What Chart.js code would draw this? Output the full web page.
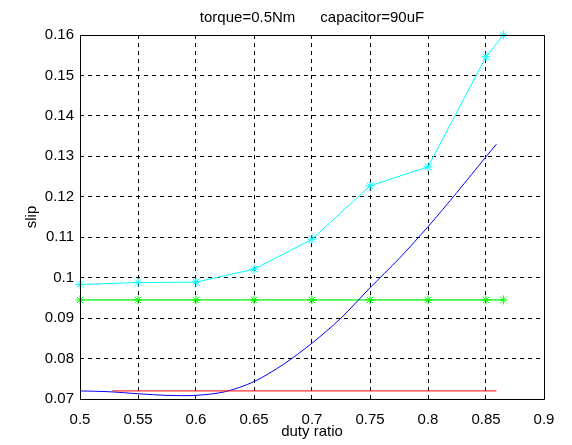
<!DOCTYPE html>
<html>
<head>
<meta charset="utf-8">
<script src="https://cdn.jsdelivr.net/npm/chart.js@4.4.1/dist/chart.umd.min.js"></script>
<style>
  html, body { margin: 0; padding: 0; background: #fff; }
  #wrap { width: 572px; height: 445px; position: relative; }
</style>
</head>
<body>
<div id="wrap"><canvas id="slipChart"></canvas></div>
<script>
// values
const dutyMarked = [0.5, 0.55, 0.6, 0.65, 0.7, 0.75, 0.8, 0.85, 0.865];
const slipCyan = [0.0983, 0.0988, 0.0989, 0.1021, 0.1095, 0.1227, 0.1274, 0.1546, 0.160];
const slipGreen = [0.0945, 0.0945, 0.0945, 0.0945, 0.0945, 0.0945, 0.0945, 0.0945, 0.0945];

const dutyBlue = [0.5, 0.525, 0.55, 0.575, 0.6, 0.625, 0.65, 0.675, 0.7, 0.725, 0.75, 0.775, 0.8, 0.825, 0.85, 0.859];
const slipBlue = [0.0720, 0.0718, 0.0713, 0.0709, 0.0709, 0.0718, 0.0743, 0.0785, 0.0838, 0.0900, 0.0975, 0.1047, 0.1126, 0.1211, 0.1299, 0.1330];

const dutyRed = [0.528, 0.859];
const slipRed = [0.0720, 0.0720];

const titleText = 'torque=0.5Nm      capacitor=90uF';

const FONT = 'Liberation Sans, Arial, sans-serif';

function pts(xs, ys) {
  return xs.map((x, i) => ({ x: x, y: ys[i] }));
}

// matlab style closed box + title
const framePlugin = {
  id: 'frame',
  afterDraw(chart) {
    const { ctx, chartArea } = chart;
    const l = Math.round(chartArea.left) + 0.5;
    const r = Math.round(chartArea.right) + 0.5;
    const t = Math.round(chartArea.top) + 0.5;
    const b = Math.round(chartArea.bottom) + 0.5;
    ctx.save();
    ctx.strokeStyle = '#000';
    ctx.lineWidth = 1;
    ctx.setLineDash([]);
    ctx.beginPath();
    ctx.rect(l, t, r - l, b - t);
    ctx.stroke();
    ctx.fillStyle = '#000';
    ctx.font = '15px ' + FONT;
    ctx.textAlign = 'center';
    ctx.textBaseline = 'middle';
    ctx.fillText(titleText, (chartArea.left + chartArea.right) / 2, 18);
    ctx.restore();
  }
};

const fmt = v => String(+Number(v).toFixed(3));

new Chart(document.getElementById('slipChart'), {
  type: 'scatter',
  data: {
    datasets: [
      {
        data: pts(dutyRed, slipRed),
        showLine: true, borderColor: '#ff0000', borderWidth: 1,
        pointRadius: 0
      },
      {
        data: pts(dutyBlue, slipBlue),
        showLine: true, borderColor: '#0000ff', borderWidth: 1,
        pointRadius: 0, tension: 0.3
      },
      {
        data: pts(dutyMarked, slipGreen),
        showLine: true, borderColor: '#00ff00', borderWidth: 1.3,
        pointStyle: 'star', pointRadius: 4.5, pointBorderWidth: 1,
        pointBorderColor: '#00ff00', pointBackgroundColor: '#00ff00', clip: false
      },
      {
        data: pts(dutyMarked, slipCyan),
        showLine: true, borderColor: '#00ffff', borderWidth: 1,
        pointStyle: 'star', pointRadius: 4.5, pointBorderWidth: 1,
        pointBorderColor: '#00ffff', pointBackgroundColor: '#00ffff', clip: false
      }
    ]
  },
  options: {
    responsive: true,
    maintainAspectRatio: false,
    animation: false,
    layout: { padding: { left: 0, right: 28, top: 35, bottom: 0 } },
    plugins: {
      legend: { display: false },
      tooltip: { enabled: false }
    },
    scales: {
      x: {
        type: 'linear',
        min: 0.5,
        max: 0.9,
        afterFit: s => { s.height = 46; },
        grid: { color: '#000', lineWidth: 1, drawTicks: false },
        border: { display: false, dash: [4, 4] },
        ticks: {
          stepSize: 0.05, padding: 12, color: '#000',
          font: { family: FONT, size: 15 }, callback: fmt
        },
        title: {
          display: true, text: 'duty ratio', color: '#000',
          font: { family: FONT, size: 15 }, padding: { top: 0, bottom: 4 }
        }
      },
      y: {
        type: 'linear',
        min: 0.07,
        max: 0.16,
        afterFit: s => { s.width = 80; },
        grid: { color: '#000', lineWidth: 1, drawTicks: false },
        border: { display: false, dash: [4, 4] },
        ticks: {
          stepSize: 0.01, padding: 6, color: '#000',
          font: { family: FONT, size: 15 }, callback: fmt
        },
        title: {
          display: true, text: 'slip', color: '#000',
          font: { family: FONT, size: 15 }, padding: { top: 23, bottom: 0 }
        }
      }
    }
  },
  plugins: [framePlugin]
});
</script>
</body>
</html>
